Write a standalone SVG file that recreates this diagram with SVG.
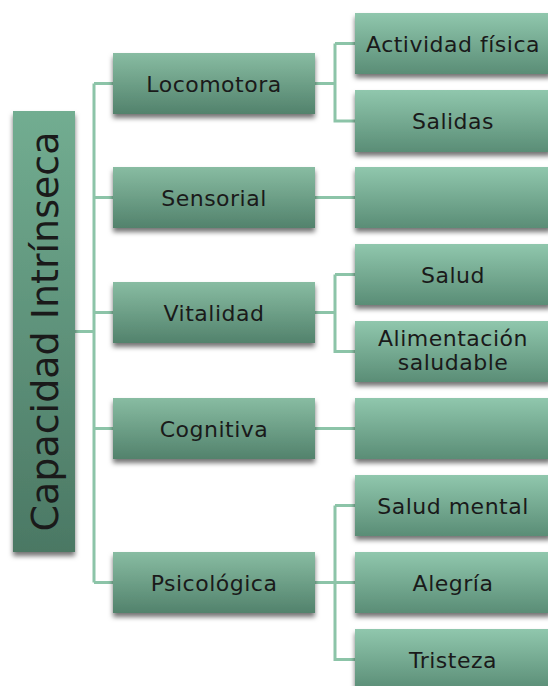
<svg xmlns="http://www.w3.org/2000/svg" width="548" height="686" viewBox="0 0 548 686">
<defs>
<linearGradient id="gL1" x1="0" y1="0" x2="0" y2="1">
<stop offset="0" stop-color="#88bca2"/><stop offset="1" stop-color="#52826c"/>
</linearGradient>
<linearGradient id="gL2" x1="0" y1="0" x2="0" y2="1">
<stop offset="0" stop-color="#90c7ad"/><stop offset="1" stop-color="#5a8d76"/>
</linearGradient>
<linearGradient id="gRoot" x1="0" y1="0" x2="0" y2="1">
<stop offset="0" stop-color="#72ad91"/><stop offset="1" stop-color="#4b7864"/>
</linearGradient>
<filter id="sh" x="-10%" y="-20%" width="120%" height="150%">
<feDropShadow dx="0" dy="4" stdDeviation="2.5" flood-color="#000" flood-opacity="0.55"/>
</filter>
<style>
.l1{fill:url(#gL1);filter:url(#sh)}
.l2{fill:url(#gL2);filter:url(#sh)}
.t{font-family:"DejaVu Sans","Liberation Sans",sans-serif;font-size:22px;fill:#1a1a1a;text-anchor:middle;letter-spacing:0.5px}
.c{fill:none;stroke:#8cc4a8;stroke-width:3}
</style>
</defs>
<g id="connectors">
<path class="c" d="M75 331.5H94M94 83.5V582.5M94 83.5H113M94 197.5H113M94 312.5H113M94 428.5H113M94 582.5H113"/>
<path class="c" d="M315 83.5H335M335 43.5V121H355M335 43.5H355"/>
<path class="c" d="M315 197.5H355"/>
<path class="c" d="M315 312.5H335M335 274.5V351.5H355M335 274.5H355"/>
<path class="c" d="M315 428.5H355"/>
<path class="c" d="M315 582.5H355M335 505.5V659.5H355M335 505.5H355"/>
</g>
<g id="root"><rect x="13" y="111" width="62" height="441" fill="url(#gRoot)" filter="url(#sh)"/>
<text class="t" transform="translate(44,331.5) rotate(-90)" y="14" style="font-size:38px;letter-spacing:0">Capacidad Intrínseca</text></g>
<g id="locomotora"><rect class="l1" x="113" y="53" width="202" height="61"/><text class="t" x="214" y="91.5">Locomotora</text></g>
<g id="sensorial"><rect class="l1" x="113" y="167" width="202" height="61"/><text class="t" x="214" y="205.5">Sensorial</text></g>
<g id="vitalidad"><rect class="l1" x="113" y="282" width="202" height="61"/><text class="t" x="214" y="320.5">Vitalidad</text></g>
<g id="cognitiva"><rect class="l1" x="113" y="398" width="202" height="61"/><text class="t" x="214" y="436.5">Cognitiva</text></g>
<g id="psicologica"><rect class="l1" x="113" y="552" width="202" height="61"/><text class="t" x="214" y="590.5">Psicológica</text></g>
<g id="actividad"><rect class="l2" x="355" y="13" width="196" height="61"/><text class="t" x="453" y="51.5">Actividad física</text></g>
<g id="salidas"><rect class="l2" x="355" y="90" width="196" height="62"/><text class="t" x="453" y="129">Salidas</text></g>
<g id="sensorial-child"><rect class="l2" x="355" y="167" width="196" height="61"/></g>
<g id="salud"><rect class="l2" x="355" y="244" width="196" height="61"/><text class="t" x="453" y="282.5">Salud</text></g>
<g id="alimentacion"><rect class="l2" x="355" y="321" width="196" height="61"/><text class="t" x="453" y="346">Alimentación</text><text class="t" x="453" y="370">saludable</text></g>
<g id="cognitiva-child"><rect class="l2" x="355" y="398" width="196" height="61"/></g>
<g id="salud-mental"><rect class="l2" x="355" y="475" width="196" height="61"/><text class="t" x="453" y="513.5">Salud mental</text></g>
<g id="alegria"><rect class="l2" x="355" y="552" width="196" height="61"/><text class="t" x="453" y="590.5">Alegría</text></g>
<g id="tristeza"><rect class="l2" x="355" y="629" width="196" height="61"/><text class="t" x="453" y="667.5">Tristeza</text></g>
</svg>
